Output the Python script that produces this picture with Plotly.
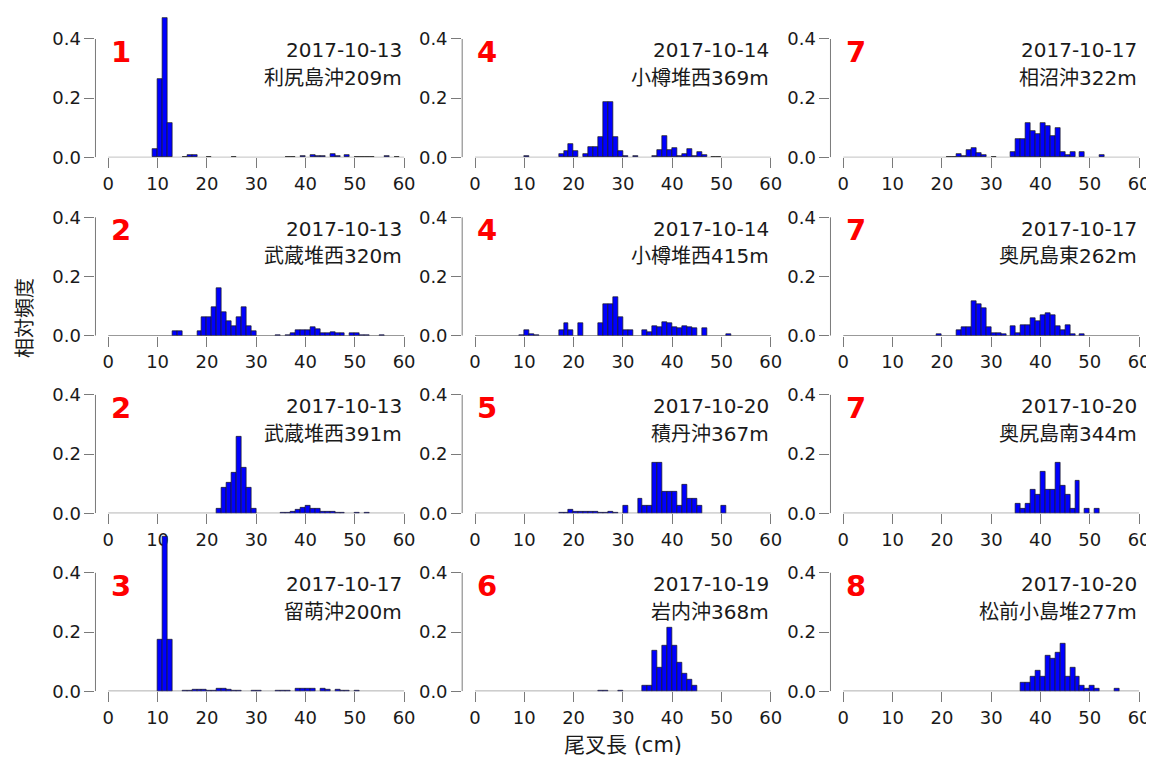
import plotly.graph_objects as go

# ---- data: bin left edges (cm) and relative frequencies per panel ----
p1_bin = [9, 10, 11, 12, 15, 16, 17, 20, 25, 36, 37, 39, 41, 42, 43, 45, 46, 48, 50, 51, 52, 53, 56, 58]
p1_val = [.028, .264, .47, .117, .002, .009, .009, .002, .002, .002, .002, .004, .009, .006, .006, .011, .004, .008, .002, .002, .002, .002, .005, .002]

p2_bin = [10, 17, 18, 19, 20, 22, 23, 24, 25, 26, 27, 28, 29, 30, 32, 36, 37, 38, 39, 40, 41, 42, 43, 44, 45, 46, 48, 49]
p2_val = [.003, .010, .021, .045, .023, .010, .035, .035, .070, .188, .188, .070, .023, .003, .003, .003, .026, .072, .026, .032, .003, .012, .027, .003, .017, .009, .002, .002]

p3_bin = [21, 22, 23, 24, 25, 26, 27, 28, 30, 34, 35, 36, 37, 38, 39, 40, 41, 42, 43, 44, 45, 46, 48, 52]
p3_val = [.002, .002, .010, .003, .025, .033, .014, .008, .002, .017, .062, .062, .115, .089, .080, .115, .107, .071, .098, .017, .008, .017, .017, .009]

p4_bin = [13, 14, 18, 19, 20, 21, 22, 23, 24, 25, 26, 27, 28, 29, 34, 36, 37, 38, 39, 40, 41, 42, 43, 44, 45, 46, 47, 49, 50, 51, 52, 55]
p4_val = [.017, .017, .017, .064, .064, .096, .161, .081, .048, .032, .064, .096, .032, .017, .002, .002, .008, .020, .020, .020, .028, .022, .010, .010, .012, .010, .010, .008, .008, .002, .002, .002]

p5_bin = [9, 10, 11, 12, 17, 18, 19, 21, 25, 26, 27, 28, 29, 30, 31, 34, 35, 36, 37, 38, 39, 40, 41, 42, 43, 44, 46, 51]
p5_val = [.002, .020, .006, .003, .020, .042, .020, .042, .042, .105, .105, .131, .064, .020, .020, .020, .013, .032, .028, .047, .042, .030, .024, .032, .028, .024, .024, .004]

p6_bin = [19, 23, 24, 25, 26, 27, 28, 29, 30, 31, 32, 34, 35, 36, 37, 38, 39, 40, 41, 42, 43, 44, 45, 46, 48]
p6_val = [.004, .020, .030, .030, .118, .106, .092, .030, .010, .010, .005, .032, .010, .037, .037, .058, .048, .069, .075, .069, .032, .020, .037, .005, .004]

p7_bin = [22, 23, 24, 25, 26, 27, 28, 29, 35, 36, 37, 38, 39, 40, 41, 42, 43, 44, 45, 46, 47, 50, 52]
p7_val = [.016, .087, .102, .137, .258, .155, .087, .016, .002, .003, .006, .011, .018, .024, .016, .016, .005, .006, .006, .002, .002, .002, .002]

p8_bin = [17, 18, 19, 20, 21, 22, 23, 24, 25, 26, 27, 28, 30, 33, 34, 35, 36, 37, 38, 39, 40, 41, 42, 43, 44, 45, 50]
p8_val = [.002, .002, .011, .004, .006, .004, .006, .004, .002, .002, .006, .002, .025, .048, .025, .025, .170, .170, .072, .072, .072, .025, .097, .048, .048, .025, .025]

p9_bin = [35, 36, 37, 38, 39, 40, 41, 42, 43, 44, 45, 46, 47, 49, 51]
p9_val = [.031, .016, .031, .078, .063, .140, .078, .078, .171, .093, .063, .016, .109, .016, .016]

p10_bin = [10, 11, 12, 15, 16, 17, 18, 19, 20, 21, 22, 23, 24, 25, 26, 29, 30, 34, 35, 36, 38, 39, 40, 41, 43, 44, 46, 47, 48, 50]
p10_val = [.175, .522, .175, .002, .002, .004, .005, .005, .003, .003, .007, .007, .005, .003, .002, .002, .002, .002, .002, .002, .009, .009, .009, .009, .008, .006, .006, .003, .002, .002]

p11_bin = [25, 26, 29, 34, 35, 36, 37, 38, 39, 40, 41, 42, 43, 44]
p11_val = [.002, .002, .002, .019, .019, .137, .078, .155, .215, .155, .097, .059, .038, .019]

p12_bin = [36, 37, 38, 39, 40, 41, 42, 43, 44, 45, 46, 47, 48, 49, 50, 51, 55]
p12_val = [.029, .029, .050, .070, .050, .120, .110, .130, .160, .050, .080, .050, .019, .010, .019, .010, .010]

panel_bins = [p1_bin, p2_bin, p3_bin, p4_bin, p5_bin, p6_bin, p7_bin, p8_bin, p9_bin, p10_bin, p11_bin, p12_bin]
panel_vals = [p1_val, p2_val, p3_val, p4_val, p5_val, p6_val, p7_val, p8_val, p9_val, p10_val, p11_val, p12_val]
panel_num = ["1", "4", "7", "2", "4", "7", "2", "5", "7", "3", "6", "8"]
panel_date = ["2017-10-13", "2017-10-14", "2017-10-17",
              "2017-10-13", "2017-10-14", "2017-10-17",
              "2017-10-13", "2017-10-20", "2017-10-20",
              "2017-10-17", "2017-10-19", "2017-10-20"]
panel_site = ["利尻島沖209m", "小樽堆西369m", "相沼沖322m",
              "武蔵堆西320m", "小樽堆西415m", "奥尻島東262m",
              "武蔵堆西391m", "積丹沖367m", "奥尻島南344m",
              "留萌沖200m", "岩内沖368m", "松前小島堆277m"]
x_ticks = [0, 10, 20, 30, 40, 50, 60]
y_ticks = [0.0, 0.2, 0.4]
y_ticktext = ["0.0", "0.2", "0.4"]

# ---- layout geometry ----
OFF = 8                      # default page body margin
KY = 768.0 / 758.0           # vertical factor between page and picture
W = 1154 - OFF
H = round(758 * KY) - 2 * OFF
col_x0 = [108.3, 475.0, 843.3]          # picture pixel of x = 0
row_y0 = [157.3, 335.7, 513.3, 691.3]   # picture pixel of y = 0
SX = 4.93          # px per cm
SY = 296.0 * KY    # page px per unit rel. freq.
XMIN, XMAX = -2.6, 62.4

FONT = "DejaVu Sans, Noto Sans CJK JP, sans-serif"
AXC = "#7a7a7a"


def px_x(p):
    return (p - OFF) / W


def px_y(p):
    return 1 - (p * KY - OFF) / H


fig = go.Figure()
layout = dict(
    width=W, height=H,
    margin=dict(l=0, r=0, t=0, b=0),
    paper_bgcolor="white", plot_bgcolor="rgba(0,0,0,0)",
    showlegend=False, hovermode=False,
    font=dict(family=FONT, color="#1a1a1a"),
    bargap=0,
)
annotations = []
shapes = []

for i in range(12):
    r, c = divmod(i, 3)
    n = i + 1
    xa = "x" if n == 1 else f"x{n}"
    ya = "y" if n == 1 else f"y{n}"
    xkey = "xaxis" if n == 1 else f"xaxis{n}"
    ykey = "yaxis" if n == 1 else f"yaxis{n}"
    x0p, y0p = col_x0[c], row_y0[r]
    ymax = min(0.6, (y0p * KY - OFF - 1) / SY)
    xdom = [px_x(x0p + XMIN * SX), min(1.0, px_x(x0p + XMAX * SX))]
    ydom = [px_y(y0p), 1 - (y0p * KY - OFF - ymax * SY) / H]

    fig.add_trace(go.Bar(
        x=[b + 0.5 for b in panel_bins[i]], y=panel_vals[i], width=1.0,
        marker=dict(color="#0000ff", line=dict(color="#1a1a1a", width=0.7)),
        xaxis=xa, yaxis=ya,
    ))

    xmax_eff = XMIN + (xdom[1] - xdom[0]) * W / SX
    layout[xkey] = dict(
        domain=xdom, range=[XMIN, xmax_eff], anchor=ya,
        showgrid=False, zeroline=False, showline=False,
        ticks="outside", ticklen=10, tickwidth=1, tickcolor=AXC,
        tickvals=x_ticks, tickfont=dict(size=18, color="#1a1a1a"),
        fixedrange=True,
    )
    layout[ykey] = dict(
        domain=ydom, range=[0, ymax], anchor=xa,
        showgrid=False, zeroline=False, showline=False,
        ticks="outside", ticklen=10, tickwidth=1, tickcolor=AXC,
        tickvals=y_ticks, ticktext=y_ticktext, tickfont=dict(size=18, color="#1a1a1a"),
        fixedrange=True,
    )
    # y axis line from 0 to 0.4
    shapes.append(dict(type="line", xref=f"{xa} domain", yref=ya,
                       x0=0, x1=0, y0=0, y1=0.4, line=dict(color=AXC, width=1)))
    # baseline from 0 to 60
    shapes.append(dict(type="line", xref=xa, yref=ya,
                       x0=0, x1=60, y0=0, y1=0, line=dict(color="#555555", width=1)))

    annotations.append(dict(xref=xa, yref=ya, x=0.1, y=0.357, text=f"<b>{panel_num[i]}</b>",
                            showarrow=False, xanchor="left", yanchor="middle",
                            font=dict(size=29, color="#ff0000", family=FONT)))
    annotations.append(dict(xref=xa, yref=ya, x=60, y=0.362, text=panel_date[i],
                            showarrow=False, xanchor="right", yanchor="middle",
                            font=dict(size=20, color="#1a1a1a", family=FONT)))
    annotations.append(dict(xref=xa, yref=ya, x=60, y=0.268, text=panel_site[i],
                            showarrow=False, xanchor="right", yanchor="middle",
                            font=dict(size=20, color="#1a1a1a", family=FONT)))

annotations.append(dict(xref="paper", yref="paper", x=px_x(623), y=px_y(745),
                        text="尾叉長 (cm)", showarrow=False, xanchor="center", yanchor="middle",
                        font=dict(size=21, color="#1a1a1a", family=FONT)))
annotations.append(dict(xref="paper", yref="paper", x=px_x(25), y=px_y(318),
                        text="相対頻度", showarrow=False, xanchor="center", yanchor="middle",
                        textangle=-90,
                        font=dict(size=20, color="#1a1a1a", family=FONT)))

layout["annotations"] = annotations
layout["shapes"] = shapes
fig.update_layout(**layout)
fig.write_html("out.html")
